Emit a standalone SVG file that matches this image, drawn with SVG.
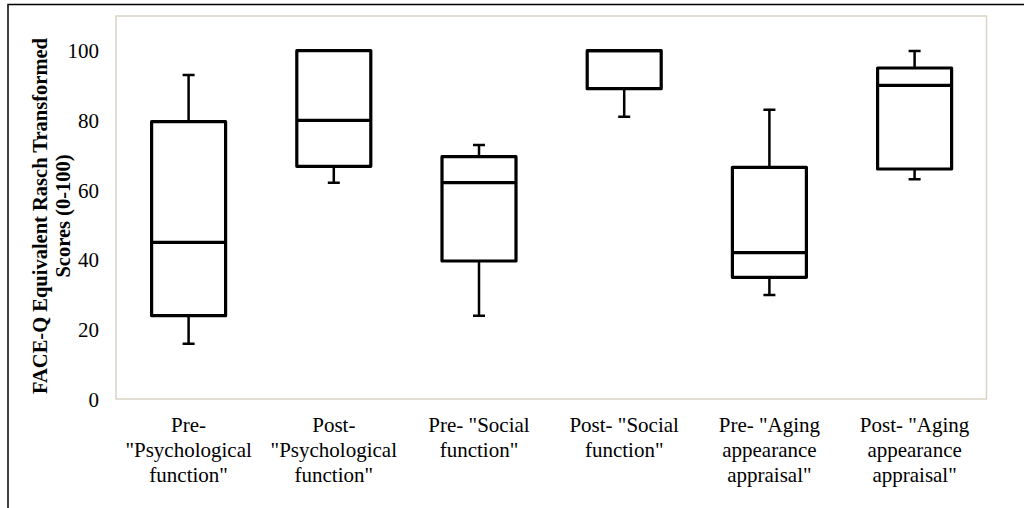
<svg xmlns="http://www.w3.org/2000/svg" width="1024" height="508" viewBox="0 0 1024 508">
  <style>
    .frame { fill: none; stroke: #000; stroke-width: 1.5; }
    .plot { fill: #fff; stroke: #d9d5c4; stroke-width: 1.5; }
    .box { fill: none; stroke: #000; stroke-width: 3.2; stroke-linejoin: round; }
    .med { stroke: #000; stroke-width: 3.2; }
    .wh { stroke: #000; stroke-width: 2.5; fill: none; }
    .tick { font-family: "Liberation Serif", "Times New Roman", serif; font-size: 21px; fill: #000; text-anchor: end; }
    .cat { font-family: "Liberation Serif", "Times New Roman", serif; font-size: 21px; fill: #000; text-anchor: middle; }
    .title { font-family: "Liberation Serif", "Times New Roman", serif; font-size: 20.5px; font-weight: bold; fill: #000; text-anchor: middle; }
  </style>
  <rect width="1024" height="508" fill="#fff"/>
  <path class="frame" d="M8,508 V4.5 H1024"/>
  <rect id="plot-area" class="plot" x="116" y="16" width="870.5" height="383"/>

  <g id="y-axis">
    <text class="tick" x="99" y="58">100</text>
    <text class="tick" x="99" y="127.5">80</text>
    <text class="tick" x="99" y="197.5">60</text>
    <text class="tick" x="99" y="267">40</text>
    <text class="tick" x="99" y="336.5">20</text>
    <text class="tick" x="99" y="406.5">0</text>
    <text class="title" transform="translate(47,216) rotate(-90)">FACE-Q Equivalent Rasch Transformed</text>
    <text class="title" transform="translate(70,216) rotate(-90)">Scores (0-100)</text>
  </g>

  <g id="connectors">
    <path class="wh" d="M188.6,121.7 V75 M182.6,75 H194.6 M188.6,315.7 V343.7 M182.6,343.7 H194.6"/>
    <path class="wh" d="M333.8,166.3 V182.7 M327.8,182.7 H339.8 M327.8,50.7 H339.8"/>
    <path class="wh" d="M479,156.7 V145 M473,145 H485 M479,261 V315.7 M473,315.7 H485"/>
    <path class="wh" d="M624.2,88.7 V116.7 M618.2,116.7 H630.2"/>
    <path class="wh" d="M769.4,167.3 V109.7 M763.4,109.7 H775.4 M769.4,277.3 V295 M763.4,295 H775.4"/>
    <path class="wh" d="M914.6,68 V51 M908.6,51 H920.6 M914.6,169 V179.3 M908.6,179.3 H920.6"/>
  </g>

  <g id="pre-psychological">
    <rect class="box" x="151.6" y="121.7" width="74" height="194"/>
    <line class="med" x1="151.6" y1="242.3" x2="225.6" y2="242.3"/>
    <text class="cat" x="188.6" y="432">Pre-</text>
    <text class="cat" x="188.6" y="457">"Psychological</text>
    <text class="cat" x="188.6" y="482">function"</text>
  </g>
  <g id="post-psychological">
    <rect class="box" x="296.8" y="50.7" width="74" height="115.6"/>
    <line class="med" x1="296.8" y1="120.3" x2="370.8" y2="120.3"/>
    <text class="cat" x="333.8" y="432">Post-</text>
    <text class="cat" x="333.8" y="457">"Psychological</text>
    <text class="cat" x="333.8" y="482">function"</text>
  </g>
  <g id="pre-social">
    <rect class="box" x="442" y="156.7" width="74" height="104.3"/>
    <line class="med" x1="442" y1="182.7" x2="516" y2="182.7"/>
    <text class="cat" x="479" y="432">Pre- "Social</text>
    <text class="cat" x="479" y="457">function"</text>
  </g>
  <g id="post-social">
    <rect class="box" x="587.2" y="50.7" width="74" height="38"/>
    <line class="med" x1="587.2" y1="50.7" x2="661.2" y2="50.7"/>
    <text class="cat" x="624.2" y="432">Post- "Social</text>
    <text class="cat" x="624.2" y="457">function"</text>
  </g>
  <g id="pre-aging">
    <rect class="box" x="732.4" y="167.3" width="74" height="110"/>
    <line class="med" x1="732.4" y1="252.7" x2="806.4" y2="252.7"/>
    <text class="cat" x="769.4" y="432">Pre- "Aging</text>
    <text class="cat" x="769.4" y="457">appearance</text>
    <text class="cat" x="769.4" y="482">appraisal"</text>
  </g>
  <g id="post-aging">
    <rect class="box" x="877.6" y="68" width="74" height="101"/>
    <line class="med" x1="877.6" y1="85.3" x2="951.6" y2="85.3"/>
    <text class="cat" x="914.6" y="432">Post- "Aging</text>
    <text class="cat" x="914.6" y="457">appearance</text>
    <text class="cat" x="914.6" y="482">appraisal"</text>
  </g>
</svg>
